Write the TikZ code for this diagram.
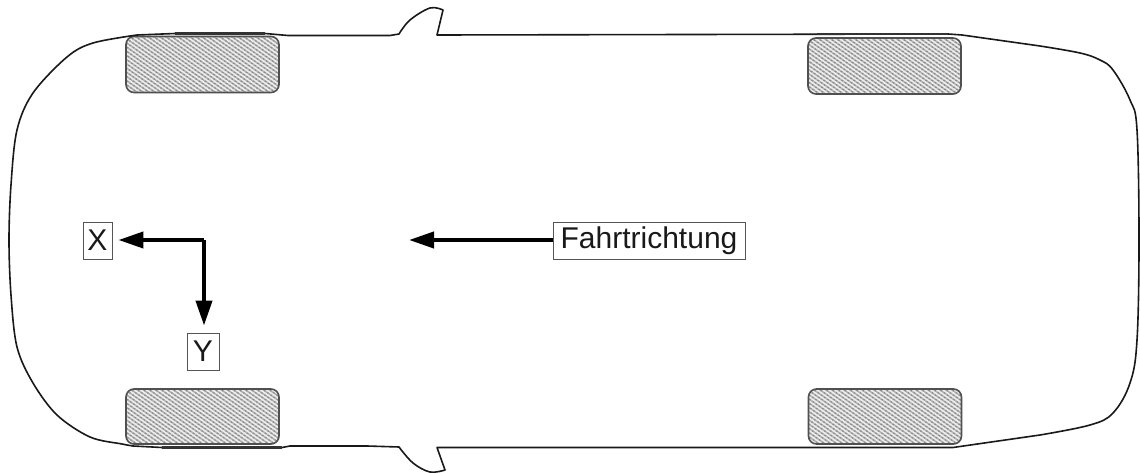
\documentclass[tikz,border=0pt]{standalone}
\usepackage{fontspec}
\setmainfont{Liberation Sans}
\usetikzlibrary{arrows.meta}
\definecolor{tyrebase}{HTML}{B4B4B4}
\definecolor{tyreedge}{HTML}{505050}
\definecolor{tyredark}{HTML}{8C8C8C}
\definecolor{tyrelight}{HTML}{EDEDED}
\definecolor{boxedge}{HTML}{555555}
\tikzset{
  x=1pt,y=-1pt,
  body/.style={line width=1.6pt,line join=round,line cap=round,black!90},
  thickedge/.style={line width=2.2pt,black!80},
  tyre/.style={draw=tyreedge,line width=1.6pt,rounded corners=8pt,minimum width=153pt,minimum height=56pt,inner sep=0pt,fill=tyrebase,
    path picture={
      \foreach \i in {-132,-126,...,132}{
        \draw[tyredark,line width=1.5pt] ([xshift=\i pt]path picture bounding box.center) ++(-50,40) -- ++(100,-80);
      }
      \foreach \i in {-132,-126,...,132}{
        \draw[tyrelight,line width=1.6pt] ([xshift=\i pt]path picture bounding box.center) ++(-50,-35) -- ++(100,70);
      }
    }},
  lab/.style={draw=boxedge,line width=0.9pt,fill=white,inner sep=0pt,font=\fontsize{30}{30}\selectfont,text=black!90,anchor=center},
  axis/.style={line width=4pt,black,-{Triangle[length=25pt,width=16pt]}}
}
\begin{document}
\begin{tikzpicture}
\useasboundingbox (0,0) rectangle (1140,473);
% tyres
\node[tyre] (tl) at (202.5,64.5) {};
\node[tyre] (tr) at (884.5,66) {};
\node[tyre,minimum height=55pt] (bl) at (202.5,416.5) {};
\node[tyre,minimum height=55pt] (br) at (885,416.5) {};
% body outline
\draw[body]
  plot[smooth,tension=0.55] coordinates {(137,35) (93,43) (67,57) (33,93) (17,130) (11,185) (9,240) (11,295) (17,347) (33,383) (57,415) (90,437) (122,444) (133,446)}
  -- (162,447.5) -- (282,447.5) -- (290,446) -- (367,446) -- (399,447)
  -- plot[smooth,tension=0.6] coordinates {(399,447) (413,463) (430,472) (445,470)}
  -- (437,447.5) -- (953,447.5)
  -- (1040,435) -- plot[smooth,tension=0.6] coordinates {(1040,435) (1090,425) (1113,413) (1130,383) (1137,340) (1139,240) (1137,130) (1130,100) (1113,70) (1100,60) (1080,53) (1040,46)}
  -- (962,35) -- (948,34) -- (437,35)
  -- (443,10) -- plot[smooth,tension=0.6] coordinates {(443,10) (430,8) (410,20) (399,34)}
  -- (390,35.5) -- (288,35.5) -- (265,33.5) -- (175,33.5) -- cycle;
\draw[thickedge] (175,33.5) -- (265,33.5);
\draw[thickedge] (817,33.8) -- (948,33.8);
\draw[thickedge] (162,447.5) -- (282,447.5);
% labels
\node[lab,minimum width=29pt,minimum height=37pt] (x) at (97.5,240.5) {X};
\node[lab,minimum width=32pt,minimum height=37pt] (y) at (203,351.5) {Y};
\node[lab,minimum width=192pt,minimum height=37pt] (f) at (649,240.5) {Fahrtrichtung};
% arrows
\coordinate (corner) at (204,240);
\coordinate (ftip) at (409,240);
\draw[line width=4pt,black] (corner) -- ++(-2,0);
\draw[axis,shorten >=6pt] (corner) -- (corner -| x.east);
\draw[axis,shorten >=7pt] (corner) -- (corner |- y.north);
\draw[axis] (f.west |- ftip) -- (ftip);
\end{tikzpicture}
\end{document}
